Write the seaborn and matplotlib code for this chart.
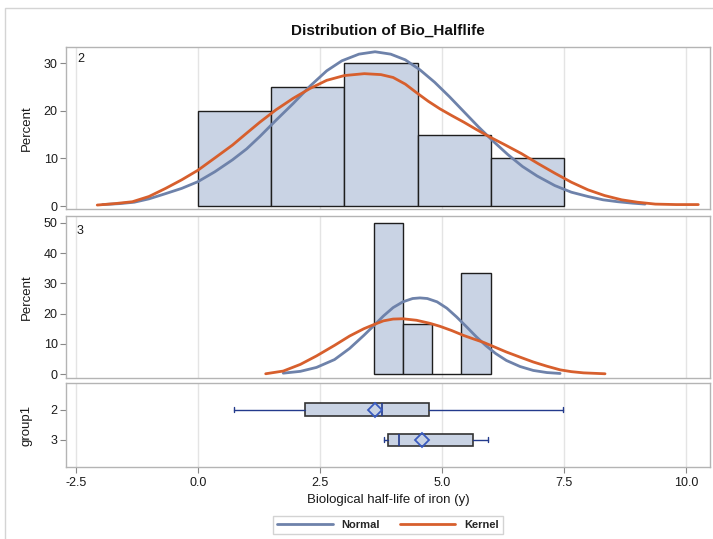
import numpy as np
import pandas as pd
import matplotlib
matplotlib.use("Agg")
import matplotlib.pyplot as plt
import matplotlib.patches as mpatches
from matplotlib.lines import Line2D
import seaborn as sns

# ---------------- data ----------------
title = "Distribution of Bio_Halflife"
xlabel = "Biological half-life of iron (y)"
groups = ["2", "3"]

# histogram group 2 (percent per bin)
bins_g2 = [0.0, 1.5, 3.0, 4.5, 6.0, 7.5]
pct_g2 = [20, 25, 30, 15, 10]
# histogram group 3
bins_g3 = [3.6, 4.2, 4.8, 5.4, 6.0]
pct_g3 = [50, 16.67, 0, 33.33]

# normal curve, group 2
norm_x_g2 = [-1.95, -1.6, -1.3, -1.0, -0.66, -0.33, 0.0, 0.35, 0.71, 1.0, 1.27,
             1.6, 1.95, 2.30, 2.64, 2.95, 3.30, 3.63, 3.95, 4.25, 4.55, 4.85,
             5.15, 5.45, 5.75, 6.05, 6.35, 6.65, 6.95, 7.31, 7.65, 7.99, 8.3,
             8.6, 8.9, 9.16]
norm_y_g2 = [0.3, 0.5, 0.8, 1.5, 2.6, 3.7, 5.1, 7.2, 9.7, 12.0, 14.6,
             18.0, 21.5, 25.2, 28.4, 30.5, 31.9, 32.4, 31.9, 30.7, 28.6, 26.0,
             23.0, 19.8, 16.6, 13.6, 10.8, 8.3, 6.3, 4.3, 2.9, 2.0, 1.3,
             0.9, 0.6, 0.4]
# kernel curve, group 2
kern_x_g2 = [-2.06, -1.7, -1.34, -1.0, -0.66, -0.33, 0.0, 0.35, 0.71, 1.0, 1.27,
             1.6, 1.95, 2.30, 2.64, 3.0, 3.41, 3.75, 4.0, 4.25, 4.48, 4.72,
             4.96, 5.2, 5.45, 5.7, 5.98, 6.3, 6.63, 6.97, 7.31, 7.65, 7.99,
             8.33, 8.68, 9.0, 9.37, 9.8, 10.25]
kern_y_g2 = [0.2, 0.5, 0.9, 2.0, 3.7, 5.5, 7.5, 10.1, 12.8, 15.3, 17.6,
             20.2, 22.6, 24.7, 26.4, 27.4, 27.8, 27.6, 27.0, 25.6, 23.8, 22.0,
             20.4, 19.0, 17.6, 16.1, 14.5, 12.8, 11.0, 8.9, 6.9, 5.0, 3.4,
             2.2, 1.3, 0.8, 0.4, 0.3, 0.3]

# normal curve, group 3
norm_x_g3 = [1.75, 2.1, 2.43, 2.8, 3.11, 3.4, 3.61, 3.8, 4.0, 4.2, 4.4, 4.55,
             4.7, 4.9, 5.1, 5.3, 5.5, 5.7, 5.9, 6.1, 6.32, 6.6, 6.87, 7.15, 7.42]
norm_y_g3 = [0.3, 0.9, 2.2, 4.8, 8.5, 12.8, 16.1, 19.2, 22.0, 23.9, 25.0, 25.2,
             25.0, 23.9, 21.8, 18.9, 15.7, 12.4, 9.4, 6.8, 4.5, 2.5, 1.2, 0.5, 0.2]
# kernel curve, group 3
kern_x_g3 = [1.39, 1.75, 2.1, 2.43, 2.8, 3.11, 3.4, 3.61, 3.8, 4.0, 4.2, 4.48,
             4.75, 4.96, 5.2, 5.44, 5.65, 5.85, 6.1, 6.32, 6.6, 6.87, 7.15,
             7.42, 7.65, 7.9, 8.34]
kern_y_g3 = [0.1, 1.0, 3.2, 6.0, 9.5, 12.6, 15.0, 16.4, 17.6, 18.2, 18.3, 17.8,
             16.8, 15.8, 14.4, 12.8, 11.6, 10.5, 8.8, 7.3, 5.6, 4.0, 2.6,
             1.4, 0.8, 0.4, 0.1]

# box plot statistics per group
box_min = [0.75, 3.82]
box_q1 = [2.19, 3.89]
box_med = [3.78, 4.13]
box_q3 = [4.74, 5.64]
box_max = [7.47, 5.94]
box_mean = [3.63, 4.60]

xticks = [-2.5, 0.0, 2.5, 5.0, 7.5, 10.0]
xticklabels = ["-2.5", "0.0", "2.5", "5.0", "7.5", "10.0"]

# ---------------- style ----------------
sns.set_theme(style="white")
plt.rcParams["font.family"] = ["Liberation Sans", "DejaVu Sans"]

C_FILL = "#c9d3e4"
C_EDGE = "#1e1e1e"
C_NORM = "#6e82aa"
C_KERN = "#d75f2d"
C_WHISK = "#233a8c"
C_SPINE = "#b4b4b4"
C_GRID = "#e4e4e4"
C_TEXT = "#1a1a1a"

W, H = 713, 539
fig = plt.figure(figsize=(W / 100, H / 100), dpi=100)
fig.patch.set_facecolor("white")


def rect(l, t, r, b):
    return [l / W, 1 - b / H, (r - l) / W, (b - t) / H]


ax1 = fig.add_axes(rect(66, 47, 710, 209))
ax2 = fig.add_axes(rect(66, 216, 710, 378))
ax3 = fig.add_axes(rect(66, 383, 710, 467))

XLIM = (-2.70, 10.49)

for ax in (ax1, ax2, ax3):
    ax.set_xlim(*XLIM)
    ax.set_xticks(xticks)
    for x in xticks:
        ax.axvline(x, color=C_GRID, lw=1.0, zorder=0)
    for s in ax.spines.values():
        s.set_color(C_SPINE)
        s.set_linewidth(1.0)
    ax.tick_params(axis="y", which="both", left=True, length=4, width=0.8,
                   color="#888888", labelsize=9, labelcolor=C_TEXT, pad=2)

# ---- histograms ----
def draw_hist(ax, edges, pct, nx, ny, kx, ky):
    df = pd.DataFrame({"x": edges[:-1], "w": pct})
    sns.histplot(data=df, x="x", weights="w", bins=edges, stat="count",
                 color=C_FILL, edgecolor=C_EDGE, linewidth=1.0, alpha=1.0,
                 ax=ax, zorder=2)
    sns.lineplot(x=nx, y=ny, ax=ax, color=C_NORM, lw=2.0, sort=False,
                 estimator=None, zorder=3)
    sns.lineplot(x=kx, y=ky, ax=ax, color=C_KERN, lw=2.0, sort=False,
                 estimator=None, zorder=4)
    ax.set_xlabel("")
    ax.set_ylabel("Percent", fontsize=9.5, color=C_TEXT)
    ax.yaxis.set_label_coords(-0.052, 0.5)
    ax.tick_params(axis="x", bottom=False, labelbottom=False)


draw_hist(ax1, bins_g2, pct_g2, norm_x_g2, norm_y_g2, kern_x_g2, kern_y_g2)
ax1.set_ylim(-0.63, 33.4)
ax1.set_yticks([0, 10, 20, 30])
ax1.text(0.017, 0.925, groups[0], transform=ax1.transAxes, fontsize=9,
         color=C_TEXT, va="center", ha="left")

draw_hist(ax2, bins_g3, pct_g3, norm_x_g3, norm_y_g3, kern_x_g3, kern_y_g3)
ax2.set_ylim(-1.3, 52.3)
ax2.set_yticks([0, 10, 20, 30, 40, 50])
ax2.text(0.017, 0.91, groups[1], transform=ax2.transAxes, fontsize=9,
         color=C_TEXT, va="center", ha="left")

# ---- box plot ----
stats = []
for i in range(len(groups)):
    stats.append(dict(whislo=box_min[i], q1=box_q1[i], med=box_med[i],
                      q3=box_q3[i], whishi=box_max[i], mean=box_mean[i],
                      fliers=[], label=groups[i]))
kw = dict(positions=list(range(len(groups))), widths=0.42, patch_artist=True,
          showmeans=True, showfliers=False, capwidths=0.17,
          boxprops=dict(facecolor=C_FILL, edgecolor="#333333", linewidth=1.2),
          whiskerprops=dict(color=C_WHISK, linewidth=1.0),
          capprops=dict(color=C_WHISK, linewidth=1.0),
          medianprops=dict(color=C_WHISK, linewidth=1.2),
          meanprops=dict(marker="D", markerfacecolor="none",
                         markeredgecolor="#3a5bbf", markersize=7,
                         markeredgewidth=1.3))
try:
    ax3.bxp(stats, orientation="horizontal", **kw)
except TypeError:
    ax3.bxp(stats, vert=False, **kw)
ax3.set_xlim(*XLIM)
ax3.set_xticks(xticks)
ax3.set_xticklabels(xticklabels)
ax3.set_yticks(list(range(len(groups))))
ax3.set_yticklabels(groups)
ax3.set_ylim(1.90, -0.89)
ax3.tick_params(axis="x", bottom=True, length=4, width=0.8, color="#888888",
                labelsize=9, labelcolor=C_TEXT, pad=3)
ax3.set_xlabel(xlabel, fontsize=9.5, color=C_TEXT, labelpad=4)
ax3.set_ylabel("group1", fontsize=9.5, color=C_TEXT)
ax3.yaxis.set_label_coords(-0.052, 0.5)

# ---- title ----
fig.text(388 / W, 1 - 31 / H, title, ha="center", va="center",
         fontsize=11, fontweight="bold", color="#111111")

# ---- legend ----
handles = [Line2D([], [], color=C_NORM, lw=2.0, label="Normal"),
           Line2D([], [], color=C_KERN, lw=2.0, label="Kernel")]
leg = fig.legend(handles=handles, loc="center", bbox_to_anchor=(388 / W, 1 - 525 / H),
                 ncol=2, frameon=True, fancybox=False,
                 prop={"size": 8, "weight": "semibold"},
                 handlelength=5.0, columnspacing=1.8, handletextpad=0.8,
                 borderpad=0.4)
leg.get_frame().set_edgecolor("#c8c8c8")
leg.get_frame().set_linewidth(1.0)

# ---- outer border ----
fig.patches.append(mpatches.Rectangle((5 / W, -0.01), 1.0, 1 - 8 / H + 0.01,
                                      transform=fig.transFigure, fill=False,
                                      edgecolor="#d4d4d4", lw=1.0))

fig.savefig("out.png", dpi=100)
